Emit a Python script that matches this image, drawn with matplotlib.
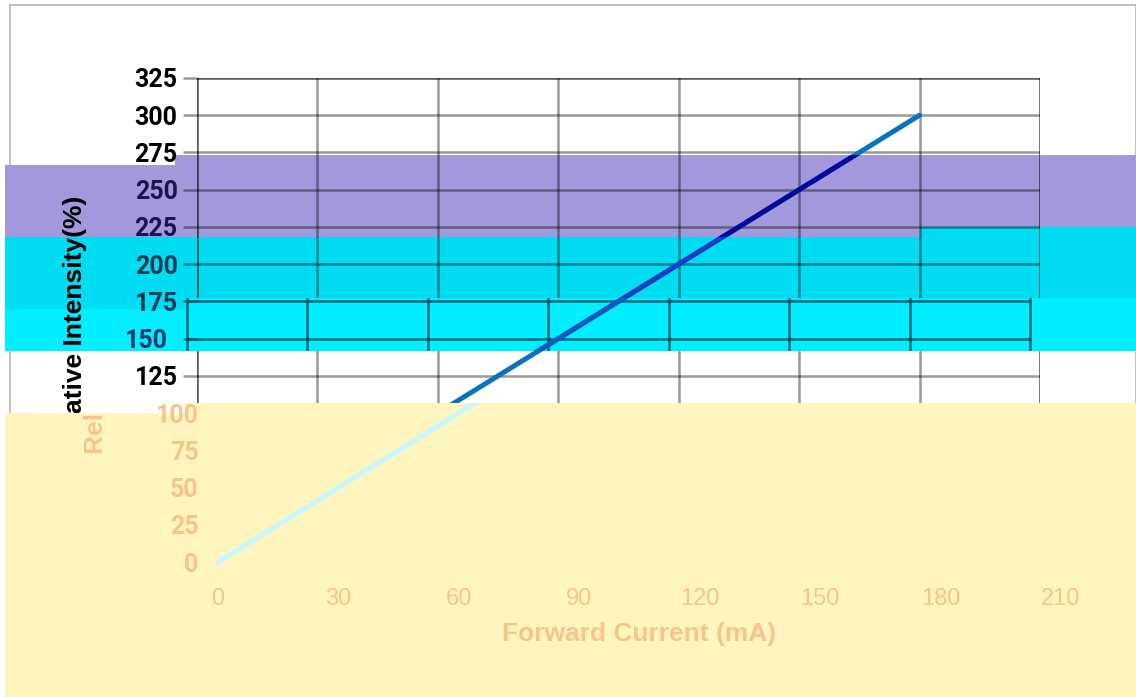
import matplotlib
matplotlib.use('Agg')
import matplotlib.pyplot as plt
from matplotlib.patches import Rectangle, PathPatch
from matplotlib.path import Path
from matplotlib.transforms import ScaledTranslation

# data
current = [0, 60, 120, 180]          # mA
intensity = [0, 100, 200, 300]       # %
xticks = [0, 30, 60, 90, 120, 150, 180, 210]
yticks = [0, 25, 50, 75, 100, 125, 150, 175, 200, 225, 250, 275, 300, 325]

W, H = 1136, 697
fig = plt.figure(figsize=(W / 100, H / 100), dpi=100)
fig.patch.set_facecolor('white')


def px_rect(x, y, w, h, **kw):
    # rectangle given in image pixels (origin top-left)
    return Rectangle((x / W, 1 - (y + h) / H), w / W, h / H,
                     transform=fig.transFigure, **kw)


def px_rects_clip(spans):
    # one clip path made of several horizontal strips (pixel rows)
    verts, codes = [], []
    for y0, y1 in spans:
        a, b = 1 - y1 / H, 1 - y0 / H
        verts += [(0, a), (1, a), (1, b), (0, b), (0, a)]
        codes += [Path.MOVETO, Path.LINETO, Path.LINETO, Path.LINETO, Path.CLOSEPOLY]
    return PathPatch(Path(verts, codes), transform=fig.transFigure)


# outer frame of the picture
fig.add_artist(px_rect(10, 5, W - 10, H, fill=False, edgecolor='#b4b4b4',
                       linewidth=1.2, zorder=-3))

# colour bands of the (damaged) picture
bands = [
    ('#a498dc', 5, 165, 170, 72),
    ('#a498dc', 175, 155, 745, 82),
    ('#a498dc', 920, 155, 216, 72),
    ('#00dcf2', 5, 237, 180, 72),
    ('#00dcf2', 185, 237, 735, 61),
    ('#00dcf2', 920, 227, 216, 71),
    ('#00eeff', 5, 309, 180, 42),
    ('#00eeff', 185, 298, 951, 53),
    ('#fff5be', 5, 413, 180, 284),
    ('#fff5be', 185, 403, 951, 294),
]
for col, x, y, w, h in bands:
    fig.add_artist(px_rect(x, y, w, h, facecolor=col, edgecolor='none', zorder=-1))

ax = fig.add_axes([197 / W, 1 - 562 / H, (1040 - 197) / W, (562 - 78) / H])
ax.set_facecolor('none')
ax.set_xlim(0, 210)
ax.set_ylim(0, 325)

g_alpha = 0.4
ax.tick_params(axis='y', length=10, width=1.8, color='black', pad=4)
ax.tick_params(axis='x', length=0, pad=19)

ax.set_yticks(yticks, labels=[str(v) for v in yticks])
ax.set_xticks(xticks, labels=[str(v) for v in xticks])
ylabels = ax.get_yticklabels()
xlabels = ax.get_xticklabels()

ax.grid(True, color='black', alpha=g_alpha, linewidth=1.8)
for sp in ax.spines.values():
    sp.set_color('black')
    sp.set_alpha(g_alpha)
    sp.set_linewidth(1.8)

# shifted strips: bright cyan strip moves left, pale yellow strip moves right
grid_clip = px_rects_clip([(0, 298), (351, 403)])
cyan_clip = px_rect(0, 298, W, 53)
upper_clip = px_rect(0, 0, W, 403)
lower_clip = px_rect(0, 403, W, H - 403)
label_clip = px_rect(0, 0, W, 413)
label_low_clip = px_rect(0, 413, W, H - 413)
shift = ScaledTranslation(21 / 100, 0, fig.dpi_scale_trans)
shift_left = ScaledTranslation(-10 / 100, 0, fig.dpi_scale_trans)
pale = '#f7c48c'

for ln in ax.get_xgridlines() + ax.get_ygridlines():
    ln.set_clip_path(grid_clip)
for sp in ax.spines.values():
    sp.set_clip_path(grid_clip)
ax.spines['bottom'].set_visible(False)

# grid inside the bright cyan strip, drawn 10 px to the left
teal = (0, 0.18, 0.25, 0.7)
vl = ax.vlines(xticks, 0, 325, colors=[teal], linewidth=1.8)
vl.set_transform(vl.get_transform() + shift_left)
vl.set_clip_path(cyan_clip)
hl = ax.hlines([150, 175], 0, 210, colors=[teal], linewidth=1.8)
hl.set_transform(hl.get_transform() + shift_left)
hl.set_clip_path(cyan_clip)
hl.set_clip_on(False)

label_colors = {225: '#1c1450', 250: '#1c1450', 200: '#0a3a55', 175: '#0a3a55',
                150: '#0a3a6a'}
for v, lab, tick in zip(yticks, ylabels, ax.yaxis.get_major_ticks()):
    tick.tick1line.set_alpha(g_alpha)
    lab.set_fontfamily('Roboto')
    lab.set_fontweight('bold')
    lab.set_fontsize(18)
    if v <= 100:
        lab.set_color(pale)
        lab.set_transform(lab.get_transform() + shift)
        tick.tick1line.set_visible(False)
    else:
        lab.set_color(label_colors.get(v, 'black'))
    if v == 150:
        lab.set_transform(lab.get_transform() + shift_left)

for lab in xlabels:
    lab.set_fontfamily('Liberation Sans')
    lab.set_fontsize(17)
    lab.set_color(pale)
    lab.set_transform(lab.get_transform() + shift)

ax.set_xlabel('Forward Current (mA)', fontfamily='Liberation Sans',
              fontsize=19, fontweight='bold', color=pale)
ax.xaxis.label.set_transform(ax.xaxis.label.get_transform() + shift)
ax.xaxis.labelpad = 8

ylab_text = 'Relative Intensity(%)'
ylab_x, ylab_y = -0.131, 0.49
ax.set_ylabel(ylab_text, fontfamily='Liberation Sans',
              fontsize=19, fontweight='bold', color='black')
ax.yaxis.set_label_coords(ylab_x, ylab_y)
ax.yaxis.label.set_clip_on(True)
ax.yaxis.label.set_clip_path(label_clip)
# the part of the label inside the yellow strip
ylab_low = ax.text(ylab_x, ylab_y, ylab_text, transform=ax.transAxes + shift,
                   rotation=90, rotation_mode='anchor', ha='center', va='bottom',
                   fontfamily='Liberation Sans', fontsize=19, fontweight='bold',
                   color=pale, clip_on=True)
ylab_low.set_clip_path(label_low_clip)

# the curve, drawn once per band so it takes the tint of each band
line_main = ax.plot(current, intensity, color='#0a72c0', linewidth=3.6,
                    solid_capstyle='round')[0]
line_main.set_clip_path(upper_clip)

band_line = [
    ('#0008a0', px_rect(0, 155, W, 82)),
    ('#1a3ec4', px_rect(0, 237, W, 61)),
    ('#1458c4', px_rect(0, 298, W, 53)),
]
for col, clip in band_line:
    ln = ax.plot(current, intensity, color=col, linewidth=3.6,
                 solid_capstyle='round')[0]
    ln.set_clip_path(clip)

low = ax.plot(current, intensity, color='#c8f8ff', linewidth=3.6,
              solid_capstyle='round')[0]
low.set_transform(low.get_transform() + shift)
low.set_clip_path(lower_clip)

fig.savefig('out.png', dpi=100)
